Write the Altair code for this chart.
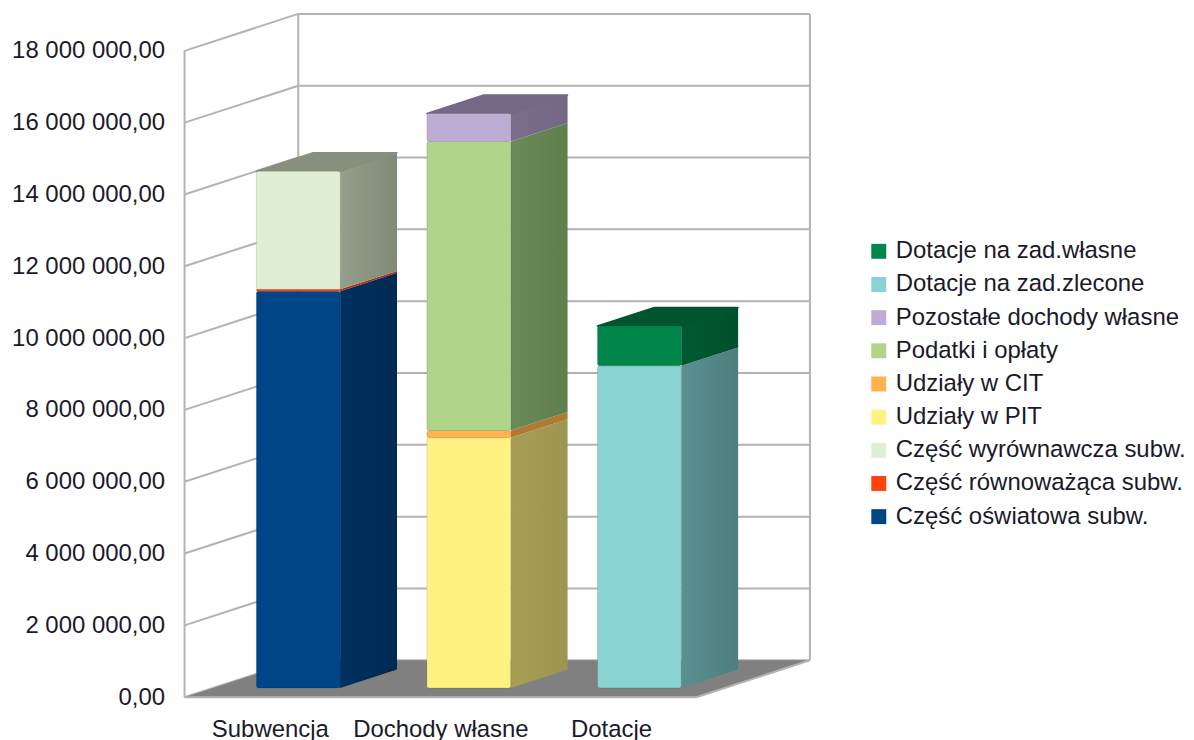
import json
import altair as alt
import pandas as pd

categories = ["Subwencja", "Dochody własne", "Dotacje"]
tick_values = [v * 1_000_000 for v in range(0, 20, 2)]

legend_order = ["Dotacje na zad.własne", "Dotacje na zad.zlecone", "Pozostałe dochody własne",
                "Podatki i opłaty", "Udziały w CIT", "Udziały w PIT",
                "Część wyrównawcza subw.", "Część równoważąca subw.", "Część oświatowa subw."]
legend_colors = ["#00854a", "#89d3d4", "#bdadd4", "#aed58a", "#ffb24d", "#fff280",
                 "#e0efd4", "#ff420e", "#004586"]

subwencja_series = ["Część oświatowa subw.", "Część równoważąca subw.", "Część wyrównawcza subw."]
subwencja_values = [11_050_000, 50_000, 3_290_000]
dochody_series = ["Udziały w PIT", "Udziały w CIT", "Podatki i opłaty", "Pozostałe dochody własne"]
dochody_values = [6_970_000, 200_000, 8_050_000, 780_000]
dotacje_series = ["Dotacje na zad.zlecone", "Dotacje na zad.własne"]
dotacje_values = [8_970_000, 1_110_000]

side_shades = {
    "Część oświatowa subw.": ("#003061", "#002a52"),
    "Część równoważąca subw.": ("#a8300f", "#a8300f"),
    "Część wyrównawcza subw.": ("#949f8c", "#818a76"),
    "Udziały w PIT": ("#a89f55", "#9c9550"),
    "Udziały w CIT": ("#b07a30", "#b07a30"),
    "Podatki i opłaty": ("#6a8a58", "#5f7f4e"),
    "Pozostałe dochody własne": ("#7a6e8a", "#736784"),
    "Dotacje na zad.zlecone": ("#5b8f90", "#4e7e7e"),
    "Dotacje na zad.własne": ("#005a32", "#00502b"),
}
top_shades = ["#878f7d", "#756885", "#00552e"]
stacks = [(subwencja_series, subwencja_values), (dochody_series, dochody_values), (dotacje_series, dotacje_values)]

GRID = "#b3b3b3"
FONT = "Liberation Sans"
FS = 24
X_MIN = 0.5
X_SPAN = 627 / 171
DEPTH_X = 2 / 3
DEPTH_Y = 37 / 36 * 1e6
Y_MAX = 19_000_000
HALF = 42 / 171
TOP_TICK = tick_values[-1]
X_RIGHT = X_MIN + len(categories)

labels_js = json.dumps(categories, ensure_ascii=False)
X = alt.X("x:Q", scale=alt.Scale(domain=[X_MIN, X_MIN + X_SPAN], nice=False, zero=False),
          axis=alt.Axis(values=[1, 2, 3], title=None, domain=False, ticks=False, grid=False,
                        labelExpr=f"{labels_js}[datum.value-1]", labelFont=FONT, labelFontSize=FS,
                        labelColor="#1a1a2a", labelPadding=20, labelFlush=False, labelOverlap=False))
Y = alt.Y("y:Q", scale=alt.Scale(domain=[0, Y_MAX], nice=False), stack=None,
          axis=alt.Axis(values=tick_values, title=None, domain=False, ticks=False, grid=False,
                        labelExpr="replace(replace(format(datum.value,',.2f'),regexp(',','g'),' '),'.',',')",
                        labelFont=FONT, labelFontSize=FS, labelColor="#1a1a2a", labelPadding=20))
X2 = alt.X2("x2:Q")
Y2 = alt.Y2("y2:Q")

# walls -------------------------------------------------------------
back_h = alt.Chart(pd.DataFrame([
    {"x": X_MIN + DEPTH_X, "x2": X_MIN + X_SPAN, "y": v + DEPTH_Y} for v in tick_values
])).mark_rule(color=GRID, strokeWidth=2).encode(x=X, x2=X2, y=Y)

side_rows = []
for v in tick_values:
    side_rows.append({"tick": v, "x": X_MIN, "y": v})
    side_rows.append({"tick": v, "x": X_MIN + DEPTH_X, "y": v + DEPTH_Y})
left_diag = alt.Chart(pd.DataFrame(side_rows)).mark_line(color=GRID, strokeWidth=2).encode(
    x=X, y=Y, detail="tick:N")

verticals = alt.Chart(pd.DataFrame([
    {"x": X_MIN, "y": 0, "y2": TOP_TICK},
    {"x": X_MIN + DEPTH_X, "y": DEPTH_Y, "y2": TOP_TICK + DEPTH_Y},
    {"x": X_MIN + X_SPAN, "y": DEPTH_Y, "y2": TOP_TICK + DEPTH_Y},
])).mark_rule(color=GRID, strokeWidth=2).encode(x=X, y=Y, y2=Y2)

floor = alt.Chart(pd.DataFrame([
    {"x": X_MIN, "x2": X_RIGHT, "y": 0},
    {"x": X_MIN + DEPTH_X, "x2": X_RIGHT + DEPTH_X, "y": DEPTH_Y},
])).mark_area(orient="horizontal", color="#808080").encode(x=X, x2=X2, y=Y)

edge_rows = [
    {"e": 0, "x": X_MIN, "y": 0}, {"e": 0, "x": X_RIGHT, "y": 0},
    {"e": 1, "x": X_RIGHT, "y": 0}, {"e": 1, "x": X_RIGHT + DEPTH_X, "y": DEPTH_Y},
    {"e": 1, "x": X_MIN + X_SPAN, "y": DEPTH_Y},
]
edges = alt.Chart(pd.DataFrame(edge_rows)).mark_line(color=GRID, strokeWidth=2).encode(
    x=X, y=Y, detail="e:N")

layers = [back_h, left_diag, verticals, floor, edges]

# bars --------------------------------------------------------------
front_rows = []
for i, (names, values) in enumerate(stacks):
    center = i + 1 + DEPTH_X / 4
    y0 = DEPTH_Y / 4
    left, right = center - HALF, center + HALF
    dx, dy = DEPTH_X / 2, DEPTH_Y / 2
    for name, val in zip(names, values):
        y1 = y0 + val
        c0, c1 = side_shades[name]
        side = pd.DataFrame([
            {"x": right, "y": y0, "y2": y1},
            {"x": right + dx, "y": y0 + dy, "y2": y1 + dy},
        ])
        layers.append(alt.Chart(side).mark_area(
            orient="vertical",
            color=alt.LinearGradient(gradient="linear", x1=0, x2=1, y1=0, y2=0,
                                     stops=[alt.GradientStop(color=c0, offset=0),
                                            alt.GradientStop(color=c1, offset=1)]),
        ).encode(x=X, y=Y, y2=Y2))
        front_rows.append({"series": name, "x": left, "x2": right, "y": y0, "y2": y1})
        y0 = y1
    top = pd.DataFrame([
        {"x": left, "x2": right, "y": y0},
        {"x": left + dx, "x2": right + dx, "y": y0 + dy},
    ])
    layers.append(alt.Chart(top).mark_area(orient="horizontal", color=top_shades[i],
                                           stroke=top_shades[i], strokeWidth=1.5,
                                           strokeJoin="round").encode(x=X, x2=X2, y=Y))

front = alt.Chart(pd.DataFrame(front_rows)).mark_rect(cornerRadius=2, stroke="#000000", strokeOpacity=0.12,
                                                      strokeWidth=1).encode(
    x=X, x2=X2, y=Y, y2=Y2,
    color=alt.Color("series:N", scale=alt.Scale(domain=legend_order, range=legend_colors),
                    legend=alt.Legend(title=None, orient="none", legendX=684, legendY=225,
                                      symbolType="square", symbolSize=225, symbolStrokeWidth=0,
                                      labelFont=FONT, labelFontSize=FS, labelColor="#1a1a2a",
                                      labelLimit=400, rowPadding=9.25, labelOffset=5,
                                      padding=0)),
)
layers.append(front)

chart = alt.layer(*layers).properties(
    width=627, height=684,
    padding={"left": 3, "top": 1, "right": 0, "bottom": 0},
).configure_view(stroke=None)
chart.save("out.html", embed_options={"renderer": "svg", "actions": False})
